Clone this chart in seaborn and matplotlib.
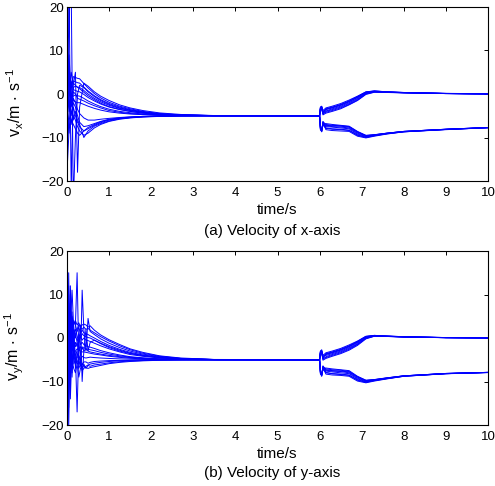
import matplotlib
matplotlib.use("Agg")
import matplotlib.pyplot as plt
import seaborn as sns
import pandas as pd

# ---------------- data ----------------
# early phase sample times for panel (a)
t_early_x = [0, 0.05, 0.1, 0.15, 0.2, 0.25, 0.3, 0.4, 0.5, 0.65, 0.8, 1.0,
             1.25, 1.5, 1.8, 2.2, 2.7, 3.5, 6.0]
# early phase sample times for panel (b)
t_early_y = [0, 0.04, 0.08, 0.12, 0.16, 0.2, 0.24, 0.28, 0.32, 0.36, 0.4,
             0.45, 0.5, 0.55, 0.65, 0.8, 1.0, 1.25, 1.5, 1.8, 2.2, 2.7, 3.5, 6.0]
# late phase sample times (both panels)
t_late = [6.0, 6.02, 6.05, 6.08, 6.15, 6.3, 6.5, 6.7, 6.9, 7.1, 7.3, 7.6,
          8.0, 9.0, 10.0]

vx_early = [
    [-2, 6, 1, 4, 3.8, 3.6, 3.5, 2.4, 1.4, 0.1, -0.9, -1.9, -2.8, -3.4, -4.0, -4.5, -4.8, -4.97, -5],
    [4, -3, 2, 3, 2.8, 2.6, 2.5, 1.6, 0.7, -0.4, -1.3, -2.2, -3.0, -3.6, -4.1, -4.55, -4.8, -4.97, -5],
    [8, 2, -1, 1.5, 1.8, 1.6, 1.5, 0.8, 0.0, -1.0, -1.8, -2.6, -3.3, -3.8, -4.25, -4.6, -4.85, -4.98, -5],
    [-6, -1, 3, 1, 0.8, 0.6, 0.5, -0.1, -0.8, -1.6, -2.3, -3.0, -3.6, -4.0, -4.4, -4.7, -4.88, -4.98, -5],
    [2, -4, 0, -0.5, -0.2, -0.4, -0.5, -1.0, -1.6, -2.3, -2.9, -3.5, -4.0, -4.3, -4.6, -4.8, -4.92, -4.99, -5],
    [-10, -4, -2, -1.5, -1.8, -2.0, -2.0, -2.4, -2.8, -3.3, -3.7, -4.1, -4.4, -4.6, -4.75, -4.88, -4.95, -5, -5],
    [18, 25, 24, -25, -10, 0, 2, 1.5, 0.5, -0.6, -1.5, -2.4, -3.2, -3.7, -4.2, -4.6, -4.85, -4.98, -5],
    [-8, 22, -22, 2, 5, -18, -3, 2.5, 1.8, 0.5, -0.5, -1.5, -2.5, -3.2, -3.8, -4.35, -4.7, -4.95, -5],
    [12, 0, 5, 2.5, 2, 1.5, 1.2, 0.4, -0.4, -1.3, -2.1, -2.9, -3.5, -4.0, -4.4, -4.7, -4.88, -4.98, -5],
    [-4, 9, -2, 0.5, 0, -1.0, -1.2, -1.6, -2.1, -2.7, -3.2, -3.8, -4.2, -4.5, -4.7, -4.85, -4.94, -4.99, -5],
    [-12, -6, -4, -5, -6, -7.5, -8.5, -9.5, -9.0, -7.8, -7.0, -6.3, -5.8, -5.5, -5.3, -5.15, -5.05, -5.0, -5],
    [6, -2, -7, -3, -5, -6.5, -7.5, -8.5, -8.0, -7.2, -6.6, -6.0, -5.6, -5.4, -5.2, -5.1, -5.03, -5.0, -5],
    [-3, -9, 1, -6, -4, -6.0, -7.0, -10.0, -8.5, -7.4, -6.8, -6.2, -5.7, -5.45, -5.25, -5.1, -5.03, -5.0, -5],
    [0, 4, -5, -2, -3, -5, -6.5, -7.5, -7.3, -6.8, -6.3, -5.8, -5.5, -5.3, -5.15, -5.08, -5.02, -5.0, -5],
    [15, 5, -3, -1, -2, -3.5, -4.5, -5.5, -6.0, -6.0, -5.8, -5.6, -5.4, -5.25, -5.15, -5.07, -5.02, -5.0, -5],
    [-18, -8, -6, -7, -8, -9, -9.5, -8.5, -7.7, -7.0, -6.4, -5.9, -5.6, -5.4, -5.2, -5.1, -5.03, -5.0, -5],
]

vx_late = [
    [-5, -3.0, -2.8, -3.8, -3.2, -2.8, -2.2, -1.4, -0.5, 0.5, 0.7, 0.5, 0.35, 0.15, 0.05],
    [-5, -3.3, -3.0, -4.2, -3.6, -3.2, -2.6, -1.8, -0.8, 0.3, 0.6, 0.45, 0.3, 0.12, 0.03],
    [-5, -3.5, -3.4, -4.6, -4.0, -3.6, -3.0, -2.2, -1.2, 0.1, 0.5, 0.4, 0.3, 0.1, 0.02],
    [-5, -3.1, -3.2, -4.8, -4.4, -4.0, -3.4, -2.5, -1.5, -0.1, 0.4, 0.35, 0.25, 0.1, 0.0],
    [-5, -3.4, -3.6, -4.4, -3.4, -3.0, -2.5, -1.7, -0.7, 0.4, 0.65, 0.5, 0.35, 0.12, 0.03],
    [-5, -3.6, -2.9, -4.0, -3.9, -3.4, -2.8, -2.0, -1.0, 0.2, 0.55, 0.42, 0.3, 0.1, 0.02],
    [-5, -3.2, -3.3, -4.5, -4.2, -3.8, -3.2, -2.4, -1.4, 0.0, 0.45, 0.38, 0.28, 0.1, 0.01],
    [-5, -3.0, -3.1, -4.1, -3.5, -3.1, -2.4, -1.6, -0.6, 0.45, 0.7, 0.5, 0.33, 0.13, 0.04],
    [-5, -7.8, -8.5, -6.5, -7.2, -7.3, -7.4, -7.6, -8.8, -9.6, -9.4, -9.0, -8.6, -8.1, -7.7],
    [-5, -8.2, -8.0, -6.8, -7.5, -7.6, -7.8, -8.0, -9.2, -9.8, -9.5, -9.1, -8.65, -8.15, -7.75],
    [-5, -7.6, -8.7, -6.3, -7.8, -8.0, -8.1, -8.3, -9.5, -10.0, -9.6, -9.15, -8.7, -8.15, -7.75],
    [-5, -8.0, -8.3, -7.0, -6.8, -7.0, -7.2, -7.4, -8.6, -9.5, -9.35, -9.0, -8.6, -8.1, -7.7],
    [-5, -7.9, -8.6, -6.6, -8.2, -8.4, -8.5, -8.6, -9.7, -10.1, -9.7, -9.2, -8.7, -8.2, -7.75],
    [-5, -8.1, -8.2, -6.9, -7.3, -7.5, -7.6, -7.8, -9.0, -9.7, -9.45, -9.05, -8.62, -8.12, -7.72],
    [-5, -7.7, -8.4, -6.4, -7.0, -7.2, -7.3, -7.5, -8.7, -9.55, -9.38, -9.02, -8.6, -8.1, -7.7],
    [-5, -8.3, -8.6, -7.1, -7.9, -8.1, -8.2, -8.4, -9.4, -9.9, -9.55, -9.1, -8.68, -8.15, -7.75],
]

vy_early = [
    [0, 6, 2, -3, -2, 3, 15, -4, -6, 11, 2, -3, 4.5, 1.5, 0.8, -0.2, -1.2, -2.2, -3.0, -3.7, -4.3, -4.7, -4.95, -5],
    [5, -3, 4, 2, 1, -4, -17, -2, 3, -10, -3, 2, -3, -1, -0.5, -1.2, -2.0, -2.8, -3.5, -4.0, -4.5, -4.8, -4.97, -5],
    [20.5, -21, 3, 11, 2, 0, 2, 3, 2.5, 2, 2.5, 2, 2.2, 1.8, 1.2, 0.3, -0.7, -1.8, -2.7, -3.5, -4.2, -4.7, -4.95, -5],
    [-20.5, 15, -14, -2, 4, 3, 1.5, 2.5, 1.0, 1.8, 1.2, 1.0, 0.8, 0.5, 0, -0.8, -1.7, -2.6, -3.3, -3.9, -4.4, -4.75, -4.96, -5],
    [13, -12, 8, -9, 1, 2, 0.5, -1.0, 0.5, -0.5, 0, -0.5, -0.6, -0.8, -1.2, -1.8, -2.5, -3.2, -3.8, -4.2, -4.6, -4.85, -4.97, -5],
    [-8, 4, -5, 3, -3, -1, -2, 0, -1.5, -1, -1.5, -1.8, -2.0, -2.1, -2.4, -2.9, -3.4, -3.9, -4.3, -4.55, -4.8, -4.92, -4.99, -5],
    [7, 0, -4, 5, 3, 4, 3, 3.5, 2.5, 3, 3.2, 3, 2.5, 2.8, 1.8, 0.7, -0.4, -1.5, -2.5, -3.3, -4.1, -4.6, -4.93, -5],
    [-12, -5, 2, -1, -4, -3, -2.5, -2.8, -3, -3.2, -3.2, -3.3, -3.4, -3.5, -3.7, -3.9, -4.2, -4.45, -4.65, -4.8, -4.9, -4.96, -5, -5],
    [2, 10, -7, 4, -6, -5, -6, -5.5, -6.5, -6, -6.5, -6.8, -7, -6.8, -6.6, -6.3, -5.9, -5.6, -5.4, -5.25, -5.12, -5.05, -5.01, -5],
    [-3, -9, 6, -6, -2, -6, -5, -7, -6, -7.5, -7, -6.5, -6.2, -6.0, -5.8, -5.6, -5.4, -5.25, -5.15, -5.08, -5.04, -5.02, -5.0, -5],
    [9, 3, -9, 0, 2, 1, -1, 1, 0, 1, 0.5, 0.3, 0.1, 0, -0.5, -1.3, -2.2, -3.0, -3.6, -4.1, -4.5, -4.8, -4.97, -5],
    [-15, 8, 0, -5, -7, -8, -6, -9, -7, -6, -5.5, -5.5, -5.8, -5.6, -5.4, -5.3, -5.2, -5.15, -5.1, -5.06, -5.03, -5.01, -5.0, -5],
    [4, -7, 12, 1, -1, -2, -1, -3, -2, -2.5, -2.2, -2.5, -2.6, -2.7, -2.9, -3.3, -3.7, -4.1, -4.4, -4.65, -4.82, -4.93, -4.99, -5],
    [16, 2, -2, -5, -4, -5.5, -4.5, -4, -5, -4.2, -4.5, -4.6, -4.5, -4.4, -4.5, -4.6, -4.7, -4.8, -4.85, -4.9, -4.95, -4.98, -5, -5],
    [-6, 12, -10, 6, -3, -4, -3, -1, -4, -2, -3, -2.5, -3.0, -3.2, -3.4, -3.7, -4.0, -4.3, -4.5, -4.7, -4.85, -4.94, -4.99, -5],
    [11, -16, 5, -8, 0, -7, -3, -6, -5, -7, -6, -7, -6.3, -6.5, -6.2, -6.0, -5.7, -5.45, -5.3, -5.18, -5.09, -5.04, -5.01, -5],
]

vy_late = [
    [-5, -3.0, -2.7, -4.0, -3.4, -3.0, -2.4, -1.6, -0.7, 0.4, 0.6, 0.45, 0.3, 0.1, 0.03],
    [-5, -3.3, -3.1, -4.5, -3.8, -3.4, -2.8, -2.0, -1.0, 0.2, 0.5, 0.4, 0.25, 0.08, 0.02],
    [-5, -3.6, -3.4, -4.9, -4.3, -3.8, -3.2, -2.4, -1.4, 0.0, 0.45, 0.38, 0.25, 0.08, 0.01],
    [-5, -3.1, -3.3, -5.1, -4.7, -4.2, -3.6, -2.8, -1.7, -0.2, 0.4, 0.35, 0.22, 0.07, 0.0],
    [-5, -3.4, -3.7, -4.6, -3.6, -3.2, -2.6, -1.8, -0.9, 0.3, 0.55, 0.42, 0.28, 0.1, 0.02],
    [-5, -3.5, -2.9, -4.2, -4.0, -3.6, -3.0, -2.2, -1.2, 0.1, 0.5, 0.4, 0.26, 0.08, 0.01],
    [-5, -3.2, -3.2, -4.7, -4.5, -4.0, -3.4, -2.6, -1.5, -0.1, 0.42, 0.36, 0.23, 0.07, 0.0],
    [-5, -3.0, -3.0, -4.3, -3.7, -3.3, -2.7, -1.9, -0.8, 0.35, 0.6, 0.45, 0.3, 0.1, 0.03],
    [-5, -7.8, -8.5, -6.6, -7.3, -7.5, -7.6, -7.8, -9.0, -9.8, -9.6, -9.2, -8.7, -8.15, -7.9],
    [-5, -8.2, -8.1, -6.9, -7.6, -7.8, -8.0, -8.2, -9.4, -10.0, -9.7, -9.3, -8.75, -8.2, -7.92],
    [-5, -7.6, -8.8, -6.4, -7.9, -8.2, -8.3, -8.5, -9.7, -10.2, -9.8, -9.35, -8.8, -8.2, -7.93],
    [-5, -8.0, -8.4, -7.1, -6.9, -7.1, -7.3, -7.5, -8.8, -9.7, -9.55, -9.15, -8.7, -8.15, -7.9],
    [-5, -7.9, -8.7, -6.7, -8.3, -8.5, -8.6, -8.8, -9.9, -10.3, -9.9, -9.4, -8.8, -8.22, -7.95],
    [-5, -8.1, -8.3, -7.0, -7.4, -7.6, -7.7, -8.0, -9.2, -9.9, -9.65, -9.25, -8.72, -8.17, -7.91],
    [-5, -7.7, -8.5, -6.5, -7.1, -7.3, -7.4, -7.7, -8.9, -9.75, -9.58, -9.18, -8.7, -8.15, -7.9],
    [-5, -8.3, -8.7, -7.2, -8.0, -8.2, -8.4, -8.6, -9.6, -10.1, -9.75, -9.3, -8.78, -8.2, -7.93],
]

x_ticks = [0, 1, 2, 3, 4, 5, 6, 7, 8, 9, 10]
y_ticks = [-20, -10, 0, 10, 20]
ylabels = [r'$\mathregular{v_x/m\,\cdot\,s^{-1}}$', r'$\mathregular{v_y/m\,\cdot\,s^{-1}}$']
captions = ['(a) Velocity of x-axis', '(b) Velocity of y-axis']
xlabel = 'time/s'


def build_frame(t_e, early, late):
    rows = []
    for i, (ve, vl) in enumerate(zip(early, late)):
        for t, v in zip(t_e, ve):
            rows.append((i, t, v))
        for t, v in zip(t_late[1:], vl[1:]):
            rows.append((i, t, v))
    return pd.DataFrame(rows, columns=['agent', 't', 'v'])


frames = [build_frame(t_early_x, vx_early, vx_late),
          build_frame(t_early_y, vy_early, vy_late)]

# ---------------- style ----------------
sns.set_theme(style='white')
plt.rcParams['font.family'] = ['Liberation Sans', 'DejaVu Sans']
plt.rcParams['mathtext.fontset'] = 'custom'
plt.rcParams['mathtext.rm'] = 'Liberation Sans'
plt.rcParams['mathtext.it'] = 'Liberation Sans'

fig = plt.figure(figsize=(4.95, 4.86), dpi=100)
W, H = 495, 486
boxes = [(67, 7, 488, 181), (67, 251, 488, 425)]
cap_y = [231, 473]

for k in range(2):
    l, t, r, b = boxes[k]
    ax = fig.add_axes([l / W, 1 - b / H, (r - l) / W, (b - t) / H])
    sns.lineplot(data=frames[k], x='t', y='v', units='agent', estimator=None,
                 color='#0000FF', linewidth=0.7, legend=False, ax=ax)
    ax.set_xlim(0, 10)
    ax.set_ylim(-20, 20)
    ax.set_xticks(x_ticks)
    ax.set_yticks(y_ticks)
    ax.tick_params(direction='in', length=3, width=0.7, top=True, right=True,
                   labelsize=9.5, colors='black')
    ax.tick_params(axis='x', pad=4)
    ax.tick_params(axis='y', pad=2)
    for s in ax.spines.values():
        s.set_visible(True)
        s.set_color('black')
        s.set_linewidth(0.8)
    ax.set_xlabel(xlabel, fontsize=11, labelpad=3, color='black')
    ax.set_ylabel(ylabels[k], fontsize=11.5, color='black')
    ax.yaxis.set_label_coords(-41 / (r - l), 0.45)
    fig.text(272 / W, 1 - cap_y[k] / H, captions[k], ha='center', va='center',
             fontsize=11, color='black')

fig.savefig('out.png', dpi=100)
